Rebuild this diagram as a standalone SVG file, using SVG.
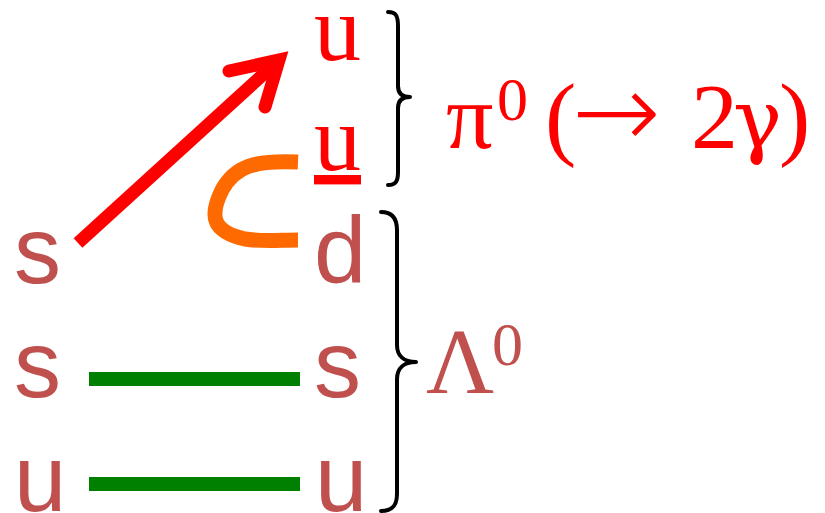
<svg xmlns="http://www.w3.org/2000/svg" width="825" height="513" viewBox="0 0 825 513">
<style>
.q{font-family:"Liberation Sans",Arial,sans-serif;font-size:94px;fill:#C0504D}
.r{font-family:"Liberation Serif","Times New Roman",serif;font-size:94px;fill:#FF0000}
.l{font-family:"Liberation Serif","Times New Roman",serif;font-size:94px;fill:#C0504D}
.sup{font-size:62px}
.g{font-family:"DejaVu Serif",serif;font-size:82px}
.arr{font-family:"DejaVu Sans",sans-serif;font-size:106px;font-weight:300}
.brace{fill:none;stroke:#000;stroke-width:4;stroke-linecap:round;stroke-linejoin:round}
.gl{stroke:#008000;stroke-width:14;fill:none}
</style>
<rect width="825" height="513" fill="#fff"/>
<g id="connectors">
  <line x1="78" y1="243" x2="279" y2="60" stroke="#FF0000" stroke-width="13"/>
  <polyline points="229,71 279,60 265,107" fill="none" stroke="#FF0000" stroke-width="13" stroke-linejoin="miter" stroke-linecap="round"/>
  <path d="M298,162 C255,160 235,166 222,190 C208,218 214,232 245,239 C262,242 280,240 298,240" fill="none" stroke="#FF6A00" stroke-width="15"/>
  <line class="gl" x1="89" y1="379" x2="300" y2="379"/>
  <line class="gl" x1="89" y1="484" x2="300" y2="484"/>
</g>
<g id="left-s1"><text class="q" x="14" y="283">s</text></g>
<g id="left-s2"><text class="q" x="14" y="397">s</text></g>
<g id="left-u"><text class="q" x="14" y="511">u</text></g>
<g id="right-d"><text class="q" x="314" y="283">d</text></g>
<g id="right-s"><text class="q" x="314" y="397">s</text></g>
<g id="right-u"><text class="q" x="315" y="511">u</text></g>
<g id="top-u"><text class="r" x="314" y="60">u</text></g>
<g id="top-ubar"><text class="r" x="314" y="170" text-decoration="underline">u</text></g>
<g id="brace-pi"><path class="brace" d="M388,12 C396,12 398,16 398,26 L398,86 C398,93 402,97 410,97 C402,97 398,101 398,108 L398,172 C398,181 396,185 388,185"/></g>
<g id="brace-lambda"><path class="brace" d="M381,212 C392,212 397,218 397,230 L397,345 C397,356 404,362 416,362 C404,362 397,368 397,379 L397,494 C397,506 392,511 381,511"/></g>
<g id="label-pi"><text class="r" y="148"><tspan x="446">π</tspan><tspan class="sup" x="497" dy="-28">0</tspan><tspan x="545" dy="28">(</tspan><tspan class="arr" x="572">→</tspan><tspan x="691">2</tspan><tspan class="g" x="733">γ</tspan><tspan x="779">)</tspan></text></g>
<g id="label-lambda"><text class="l" y="393"><tspan x="426">Λ</tspan><tspan class="sup" x="492" dy="-28">0</tspan></text></g>
</svg>
